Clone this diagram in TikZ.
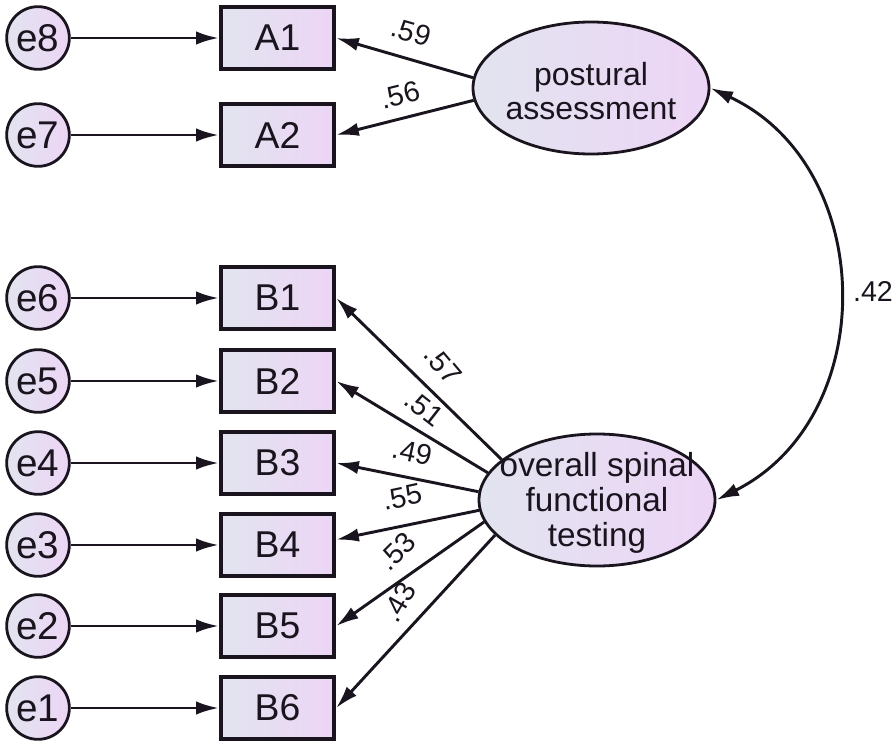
\documentclass[tikz,border=0pt]{standalone}
\usepackage{fontspec}
\setmainfont{Liberation Sans}
\usetikzlibrary{shapes.geometric,arrows.meta}
\definecolor{fillL}{RGB}{226,228,240}
\definecolor{fillR}{RGB}{237,213,245}
\definecolor{ink}{RGB}{26,20,30}
\begin{document}
\begin{tikzpicture}[x=0.75pt,y=-0.75pt,
  errc/.style={circle, draw=ink, line width=2.1pt, left color=fillL, right color=fillR,
    minimum size=47pt, inner sep=0pt, text=ink, font=\fontsize{29}{29}\selectfont},
  obs/.style={rectangle, draw=ink, line width=3pt, left color=fillL, right color=fillR,
    minimum width=85pt, minimum height=46pt, inner sep=0pt, text=ink,
    font=\fontsize{28}{28}\selectfont},
  lat/.style={ellipse, draw=ink, line width=2.1pt, left color=fillL, right color=fillR,
    minimum width=177pt, minimum height=99pt, inner sep=0pt},
  lattext/.style={align=center, text=ink, inner sep=0pt},
  arr/.style={-{Latex[length=17pt,width=10pt]}, line width=2.2pt, draw=ink},
  arrtwo/.style={{Latex[length=17pt,width=10pt]}-{Latex[length=17pt,width=10pt]}, line width=2.2pt, draw=ink},
  wt/.style={font=\fontsize{21.5}{21.5}\selectfont, text=ink, inner sep=0pt}
]
\useasboundingbox (0,0) rectangle (896,746);

% observed boxes
\node[obs] (A1) at (277.5,38) {A1};
\node[obs] (A2) at (277.5,135) {A2};
\node[obs] (B1) at (277.5,298) {B1};
\node[obs] (B2) at (277.5,381) {B2};
\node[obs] (B3) at (277.5,463) {B3};
\node[obs] (B4) at (277.5,545) {B4};
\node[obs] (B5) at (277.5,626) {B5};
\node[obs] (B6) at (277.5,708) {B6};

% error circles
\node[errc] (e8) at (38,38) {e8};
\node[errc] (e7) at (38,135) {e7};
\node[errc] (e6) at (38,298) {e6};
\node[errc] (e5) at (38,381) {e5};
\node[errc] (e4) at (38,463) {e4};
\node[errc] (e3) at (38,545) {e3};
\node[errc] (e2) at (38,626) {e2};
\node[errc] (e1) at (38,708) {e1};

\foreach \e/\b in {e8/A1,e7/A2,e6/B1,e5/B2,e4/B3,e3/B4,e2/B5,e1/B6}
  \draw[arr] (\e) -- (\b);

% latent variables
\node[lat] (pa) at (591,88) {};
\node[lattext, font=\fontsize{24}{25}\selectfont] (pat) at (591,91) {postural\\assessment};
\node[lat] (os) at (597,500) {};
\node[lattext, font=\fontsize{25}{26}\selectfont] (ost) at (597,503) {overall spinal\\functional\\testing};

% loadings
\draw[arr] (pa.175) -- (A1.east);
\draw[arr] (pa.186) -- (A2.east);
\draw[arr] (os.157) -- (B1.east);
\draw[arr] (os.166) -- (B2.east);
\draw[arr] (os.176) -- (B3.east);
\draw[arr] (os.185) -- ([yshift=4pt]B4.east);
\draw[arr] (os.191) -- (B5.east);
\draw[arr] (os.199) -- (B6.east);

% covariance
\draw[arrtwo] (pa.east) .. controls +(167,78) and +(165,-83) .. (os.east);

% labels
\node[wt, rotate=-16] (l59) at (411,32) {.59};
\node[wt, rotate=14] (l56) at (400,95) {.56};
\node[wt, rotate=-50] (l57) at (443,365) {.57};
\node[wt, rotate=-38] (l51) at (424,408) {.51};
\node[wt, rotate=-12] (l49) at (412,452) {.49};
\node[wt, rotate=12] (l55) at (402,497) {.55};
\node[wt, rotate=45] (l53) at (397,551) {.53};
\node[wt, rotate=60] (l43) at (399,602) {.43};
\node[wt] (l42) at (873,291) {.42};
\end{tikzpicture}
\end{document}
